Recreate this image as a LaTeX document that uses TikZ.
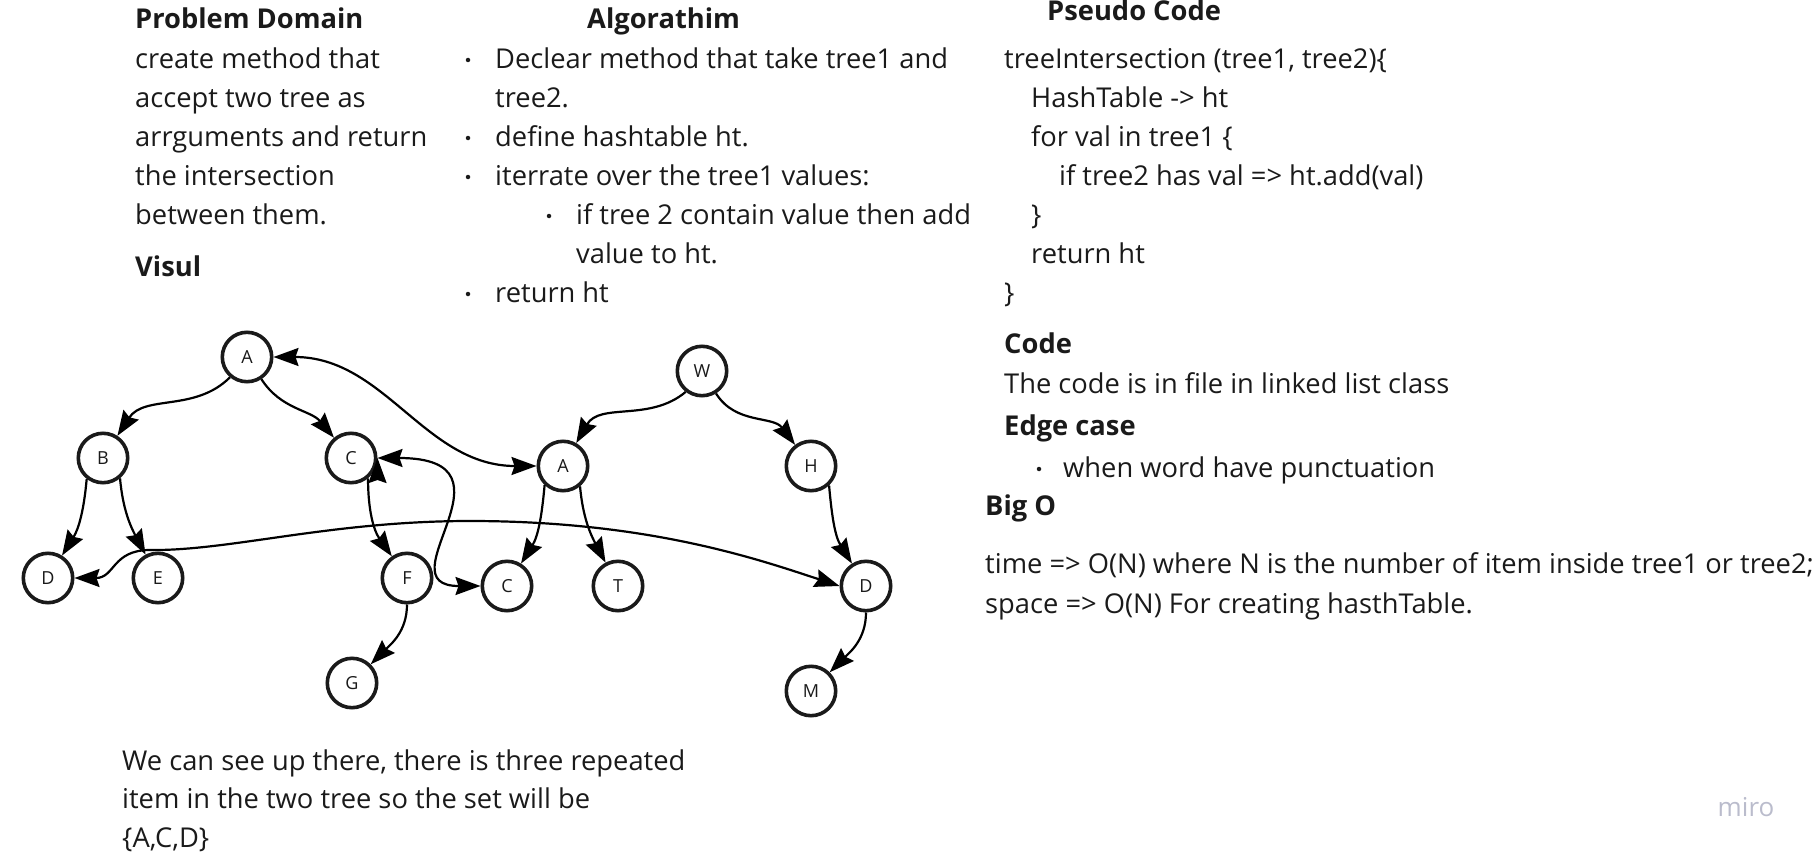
\documentclass[tikz,border=0pt]{standalone}
\usepackage{fontspec}
\setmainfont{Open Sans}
\usetikzlibrary{arrows.meta,positioning}
\definecolor{inkcol}{RGB}{26,26,26}
\definecolor{mirogray}{RGB}{186,188,204}

\begin{document}
\begin{tikzpicture}[
    x=1pt, y=-1pt,
    on grid,
    >={Stealth[length=25pt,width=18pt,inset=3pt]},
    Vtx/.style={
        circle,
        draw=inkcol,
        line width=3.6pt,
        fill=white,
        minimum size=49.4pt,
        inner sep=0pt,
        text=inkcol,
        font=\fontsize{18}{18}\selectfont
    },
    Lnk/.style={
        line width=2.2pt,
        draw=black
    },
    Txt/.style={
        anchor=base west,
        inner sep=0pt,
        text=inkcol,
        font=\fontsize{27.3}{30}\selectfont
    },
    Hd/.style={
        Txt,
        font=\bfseries\fontsize{27.3}{30}\selectfont
    },
    Blt/.style={
        circle,
        fill=inkcol,
        inner sep=0pt,
        minimum size=4.5pt
    }
    ]
    \useasboundingbox (0,0) rectangle (1817,859);

    % problem domain
    \node[Hd] (pdhead) at (135,29) {Problem Domain};
    \node[Txt] (pd1) at (135,68) {create method that};
    \node[Txt] (pd2) at (135,107) {accept two tree as};
    \node[Txt] (pd3) at (135,146) {arrguments and return};
    \node[Txt] (pd4) at (135,185) {the intersection};
    \node[Txt] (pd5) at (135,224) {between them.};
    \node[Hd] (visul) at (135,276) {Visul};

    % algorithm
    \node[Hd] (alhead) at (587,29) {Algorathim};
    \node[Blt] (ab1) at (468,60) {};
    \node[Txt] (al1) at (495,68) {Declear method that take tree1 and};
    \node[Txt] (al2) at (495,107) {tree2.};
    \node[Blt] (ab2) at (468,138) {};
    \node[Txt] (al3) at (495,146) {define hashtable ht.};
    \node[Blt] (ab3) at (468,177) {};
    \node[Txt] (al4) at (495,185) {iterrate over the tree1 values:};
    \node[Blt] (ab4) at (549,216) {};
    \node[Txt] (al5) at (576,224) {if tree 2 contain value then add};
    \node[Txt] (al6) at (576,263) {value to ht.};
    \node[Blt] (ab5) at (468,294) {};
    \node[Txt] (al7) at (495,302) {return ht};

    % pseudo code
    \node[Hd] (pshead) at (1047,21) {Pseudo Code};
    \node[Txt] (ps1) at (1004,68) {treeIntersection (tree1, tree2)\{};
    \node[Txt] (ps2) at (1031,107) {HashTable -> ht};
    \node[Txt] (ps3) at (1031,146) {for val in tree1 \{};
    \node[Txt] (ps4) at (1059,185) {if tree2 has val => ht.add(val)};
    \node[Txt] (ps5) at (1031,224) {\}};
    \node[Txt] (ps6) at (1031,263) {return ht};
    \node[Txt] (ps7) at (1004,302) {\}};

    \node[Hd] (codehead) at (1004,353) {Code};
    \node[Txt] (code1) at (1004,393) {The code is in file in linked list class};
    \node[Hd] (edgehead) at (1004,435) {Edge case};
    \node[Blt] (eb1) at (1039,469) {};
    \node[Txt] (edge1) at (1063,477) {when word have punctuation};
    \node[Hd] (bigohead) at (985,515) {Big O};
    \node[Txt] (bigo1) at (985,573) {time => O(N) where N is the number of item inside tree1 or tree2;};
    \node[Txt] (bigo2) at (985,613) {space => O(N) For creating hasthTable.};

    \node[Txt] (note1) at (122,770) {We can see up there, there is three repeated};
    \node[Txt] (note2) at (122,808) {item in the two tree so the set will be};
    \node[Txt] (note3) at (122,847) {\{A,C,D\}};

    \node[inner sep=0pt, text=mirogray, font=\fontsize{26}{26}\selectfont] (miro) at (1746,807) {miro};

    % first tree
    \node[Vtx] (a1) at (247,357) {A};
    \node[Vtx] (b) [below left=101pt and 144pt of a1] {B};
    \node[Vtx] (c1) [below right=101pt and 104pt of a1] {C};
    \node[Vtx] (d1) [below left=120pt and 55pt of b] {D};
    \node[Vtx] (e) [below right=120pt and 55pt of b] {E};
    \node[Vtx] (f) [below right=120pt and 56pt of c1] {F};
    \node[Vtx] (g) [below left=105pt and 55pt of f] {G};

    % second tree
    \node[Vtx] (w) at (702,371) {W};
    \node[Vtx] (a2) [below left=95pt and 139pt of w] {A};
    \node[Vtx] (h) [below right=95pt and 109pt of w] {H};
    \node[Vtx] (c2) [below left=120pt and 56pt of a2] {C};
    \node[Vtx] (t) [below right=120pt and 55pt of a2] {T};
    \node[Vtx] (d2) [below right=120pt and 55pt of h] {D};
    \node[Vtx] (m) [below left=105pt and 55pt of d2] {M};

    \path[Lnk,->]
    (a1.-130) edge [out=-135,in=57] (b.57)
    (a1.-57) edge [out=-57,in=130] (c1.130)
    (b.-128) edge [out=-95,in=58] (d1.58)
    (b.-50) edge [out=-85,in=118] (e.118)
    (c1.-50) edge [out=-90,in=125] (f.125)
    (f.-90) edge [out=-90,in=45] (g.45)
    (w.-128) edge [out=-140,in=60] (a2.60)
    (w.-58) edge [out=-58,in=127] (h.127)
    (a2.-134) edge [out=-95,in=58] (c2.58)
    (a2.-50) edge [out=-85,in=118] (t.118)
    (h.-47) edge [out=-85,in=122] (d2.122)
    (d2.-90) edge [out=-90,in=45] (m.45)
    (a1.0) edge [<->,out=0,in=180] (a2.180)
    (c1.0) edge [<->,out=0,in=180,out distance=150pt,in distance=100pt] (c2.180);
    \draw[Lnk,<->] (d1.0) .. controls (115,578) and (112,550) .. (150,550)
        .. controls (230,551) and (330,521) .. (470,521)
        .. controls (650,521) and (760,560) .. (d2.180);
\end{tikzpicture}
\end{document}
